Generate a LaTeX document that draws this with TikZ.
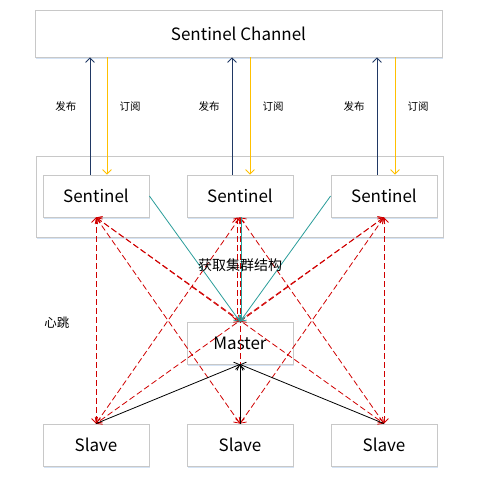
\documentclass[tikz,border=0pt]{standalone}
\usepackage{fontspec}
\setmainfont{Noto Sans CJK SC}
\usetikzlibrary{arrows.meta,shadows}
\definecolor{navy}{HTML}{203864}
\definecolor{gold}{HTML}{FFC000}
\definecolor{tealc}{HTML}{2A9D9A}
\definecolor{redc}{HTML}{D00000}
\definecolor{boxline}{HTML}{C8C8C8}
\definecolor{shade}{HTML}{C9DCF2}
\tikzset{
  box/.style={draw=boxline, fill=white, line width=0.8pt, inner sep=0pt,
    drop shadow={shadow xshift=0.5pt, shadow yshift=-2pt, fill=shade, opacity=0.8},
    font=\fontsize{17}{20}\selectfont},
  pub/.style={draw=navy, line width=0.8pt, -{Straight Barb[length=4.5pt,width=9pt]}},
  sub/.style={draw=gold, line width=0.8pt, -{Straight Barb[length=4.5pt,width=9pt]}},
  get/.style={draw=tealc, line width=0.8pt, -{Straight Barb[length=4.5pt,width=9pt]}},
  hb/.style={draw=redc, line width=0.8pt, dash pattern=on 6pt off 3pt,
    {Straight Barb[length=4.5pt,width=9pt]}-{Straight Barb[length=4.5pt,width=9pt]}},
  rep/.style={draw=black, line width=0.8pt, -{Straight Barb[length=4.5pt,width=9pt]}},
  small/.style={font=\fontsize{10.5}{12}\selectfont, inner sep=0pt},
  mid/.style={font=\fontsize{14}{16}\selectfont, inner sep=0pt}
}
\begin{document}
\begin{tikzpicture}[x=1pt,y=-1pt]
\useasboundingbox (0,0) rectangle (483,482);
\node[box, minimum width=407pt, minimum height=47pt] (chan) at (238.5,33.5) {Sentinel Channel};
\node[box, minimum width=407pt, minimum height=81pt] (group) at (239.5,196.5) {};
\node[box, minimum width=106pt, minimum height=42pt] (s1) at (96,196) {Sentinel};
\node[box, minimum width=106pt, minimum height=42pt] (s2) at (240,196) {Sentinel};
\node[box, minimum width=106pt, minimum height=42pt] (s3) at (384,196) {Sentinel};
\node[box, minimum width=106pt, minimum height=42pt] (m) at (240,343) {Master};
\node[box, minimum width=106pt, minimum height=42pt] (l1) at (96,445) {Slave};
\node[box, minimum width=106pt, minimum height=42pt] (l2) at (240,445) {Slave};
\node[box, minimum width=106pt, minimum height=42pt] (l3) at (384,445) {Slave};

% publish / subscribe
\draw[pub] ([xshift=-6pt]s1.north) -- ([xshift=-6pt]s1.north |- chan.south);
\draw[sub] ([xshift=11pt]s1.north |- chan.south) -- ([xshift=11pt]s1.north);
\draw[pub] ([xshift=-8pt]s2.north) -- ([xshift=-8pt]s2.north |- chan.south);
\draw[sub] ([xshift=10pt]s2.north |- chan.south) -- ([xshift=10pt]s2.north);
\draw[pub] ([xshift=-7pt]s3.north) -- ([xshift=-7pt]s3.north |- chan.south);
\draw[sub] ([xshift=11pt]s3.north |- chan.south) -- ([xshift=11pt]s3.north);
\node[small] (p1) at (66,107) {发布};
\node[small] (q1) at (130,107) {订阅};
\node[small] (p2) at (209,107) {发布};
\node[small] (q2) at (273,107) {订阅};
\node[small] (p3) at (354,107) {发布};
\node[small] (q3) at (418,107) {订阅};

% heartbeat
\foreach \s in {s1,s2,s3}{
  \foreach \t in {l1,l2,l3}{
    \draw[hb] (\s.south) -- (\t.north);
  }
}
\draw[hb] (s1.south) -- (m.north);
\draw[hb] ([xshift=-3pt]s2.south) -- ([xshift=-3pt]m.north);
\draw[hb] (s3.south) -- (m.north);

% cluster structure
\draw[get] (s1.east) -- (m.north);
\draw[get] ([xshift=1pt]s2.south) -- ([xshift=1pt]m.north);
\draw[get] (s3.west) -- (m.north);

% replication
\draw[rep] (l1.north) -- (m.south);
\draw[rep] (l2.north) -- (m.south);
\draw[rep] (l3.north) -- (m.south);

\node[mid] (lbl) at (240,265) {获取集群结构};
\node[font=\fontsize{12.5}{14}\selectfont, inner sep=0pt] (hbl) at (57,323) {心跳};
\end{tikzpicture}
\end{document}
